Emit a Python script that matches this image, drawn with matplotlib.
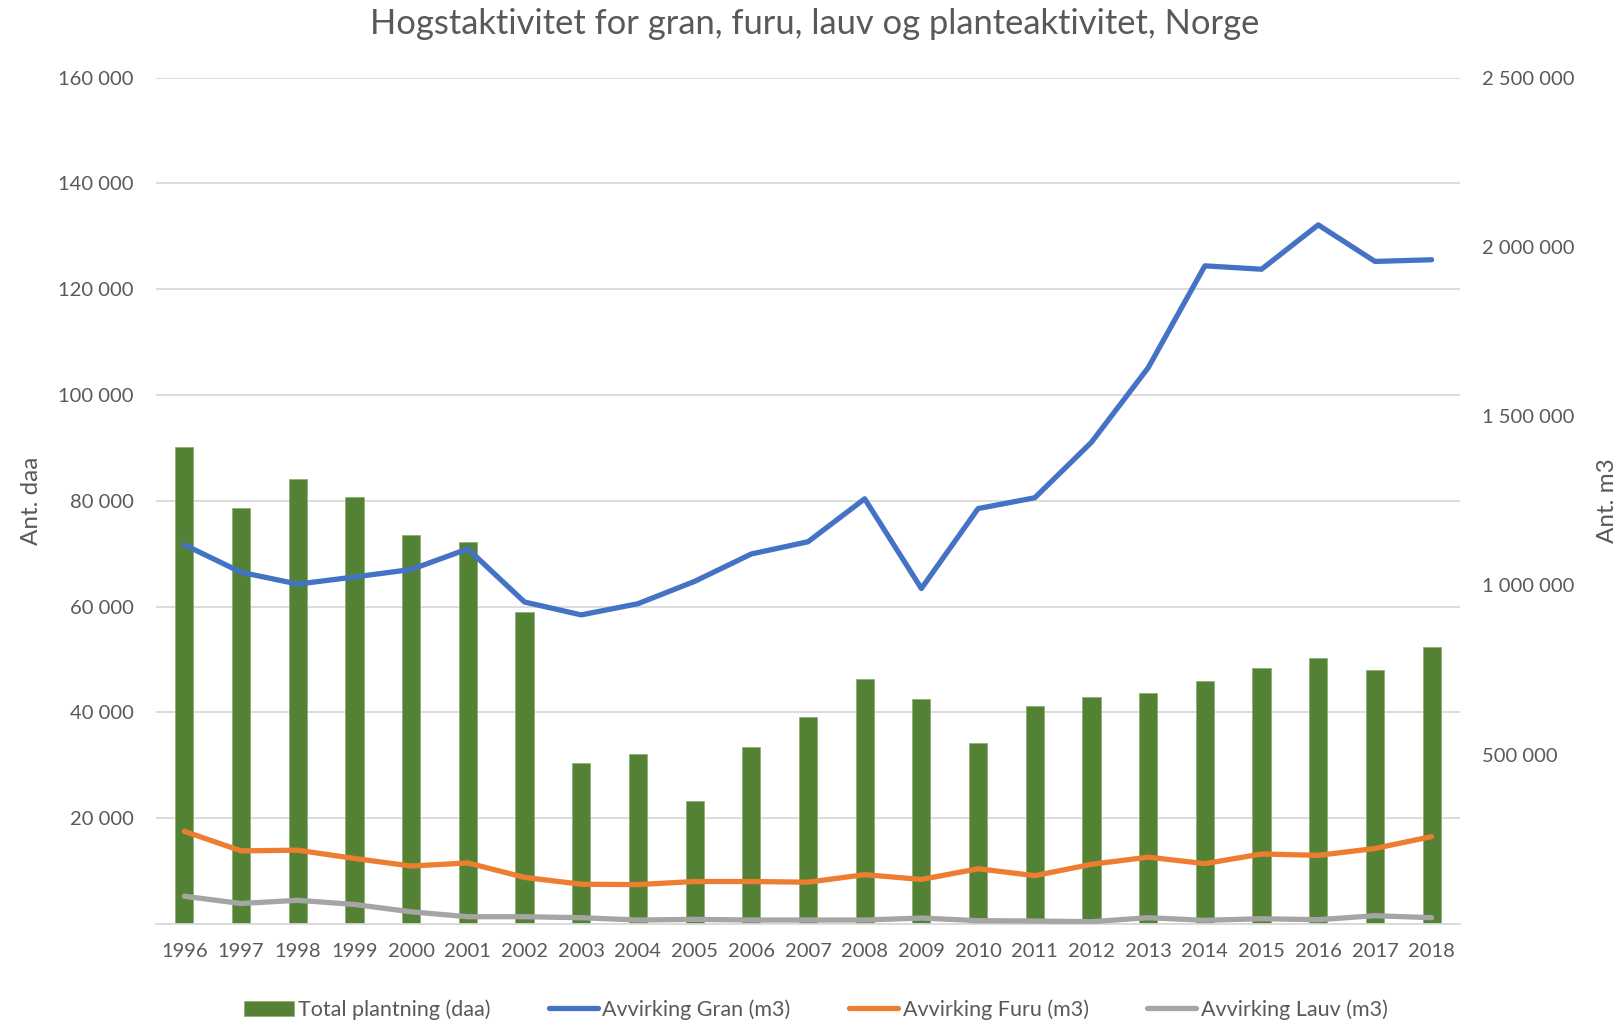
import matplotlib
matplotlib.use('Agg')
import matplotlib.pyplot as plt
import numpy as np
from matplotlib.ticker import FuncFormatter, MultipleLocator

# Data
years = [str(y) for y in range(1996, 2019)]
plantning = [90100, 78600, 84100, 80800, 73500, 72300, 59000, 30400, 32200, 23300, 33500, 39100,
             46300, 42500, 34300, 41300, 42900, 43600, 45900, 48300, 50300, 48000, 52400]
gran = [1120000, 1039000, 1004000, 1025000, 1047000, 1108000, 951000, 913000, 946000, 1012000,
        1093000, 1129000, 1256000, 991000, 1227000, 1259000, 1423000, 1643000, 1944000, 1934000,
        2065000, 1957000, 1962000]
furu = [273900, 216000, 218000, 193600, 171200, 180400, 137700, 117400, 116400, 125500, 125500,
        123500, 145800, 131600, 163100, 142800, 176300, 197400, 178400, 206800, 202800, 223100, 258300]
lauv = [82000, 60600, 70000, 57700, 36000, 21500, 21500, 18600, 11700, 13700, 11700, 11700, 11700,
        17600, 9800, 8800, 6800, 18600, 10800, 15600, 12700, 24500, 18600]

plt.rcParams['font.family'] = ['Lato', 'DejaVu Sans']
txt = '#595959'
grid = '#D9D9D9'

fig = plt.figure(figsize=(16.22, 10.22), dpi=100)
ax = fig.add_axes([156/1622, 1-924/1022, 1304/1622, (924-77.6)/1022])
ax2 = ax.twinx()

x = np.arange(len(years))
b = ax.bar(x, plantning, width=0.32, color='#548235', edgecolor='#8FAF75', linewidth=0.6,
           label='Total plantning (daa)', zorder=2)
l1, = ax2.plot(x, gran, color='#4472C4', lw=3.8, solid_capstyle='round', solid_joinstyle='round',
               label='Avvirking Gran (m3)')
l2, = ax2.plot(x, furu, color='#ED7D31', lw=3.8, solid_capstyle='round', solid_joinstyle='round',
               label='Avvirking Furu (m3)')
l3, = ax2.plot(x, lauv, color='#A5A5A5', lw=3.8, solid_capstyle='round', solid_joinstyle='round',
               label='Avvirking Lauv (m3)')

def spaced(v, pos):
    if v <= 0:
        return ''
    return f'{int(round(v)):,}'.replace(',', ' ')

ax.set_xlim(-0.5, len(years) - 0.5)
ax.set_ylim(0, 160000)
ax2.set_ylim(0, 2500000)
ax.yaxis.set_major_locator(MultipleLocator(20000))
ax2.yaxis.set_major_locator(MultipleLocator(500000))
ax.yaxis.set_major_formatter(FuncFormatter(spaced))
ax2.yaxis.set_major_formatter(FuncFormatter(spaced))
ax.set_xticks(x)
ax.set_xticklabels(years)

ax.set_axisbelow(True)
ax.grid(axis='y', color=grid, lw=1.3, zorder=0)
for a in (ax, ax2):
    for s in a.spines.values():
        s.set_visible(False)
    a.tick_params(length=0, colors=txt, labelsize=14.5)
ax.spines['bottom'].set_visible(True)
ax.spines['bottom'].set_color(grid)
ax.spines['bottom'].set_linewidth(1.3)
ax.tick_params(axis='y', pad=16)
ax2.tick_params(axis='y', pad=16)
ax.tick_params(axis='x', pad=14)

ax.set_ylabel('Ant. daa', color=txt, fontsize=17.5, labelpad=12)
ax2.set_ylabel('Ant. m3', color=txt, fontsize=17.5, rotation=90, labelpad=16)

fig.suptitle('Hogstaktivitet for gran, furu, lauv og planteaktivitet, Norge',
             color=txt, fontsize=24.8, x=0.502, y=0.992, va='top')

fig.legend(handles=[b, l1, l2, l3], loc='lower center', bbox_to_anchor=(0.503, -0.017), ncol=4,
           frameon=False, fontsize=15.5, handlelength=2.3, handletextpad=0.2, columnspacing=2.7,
           labelcolor=txt)

fig.savefig('out.png', dpi=100)
